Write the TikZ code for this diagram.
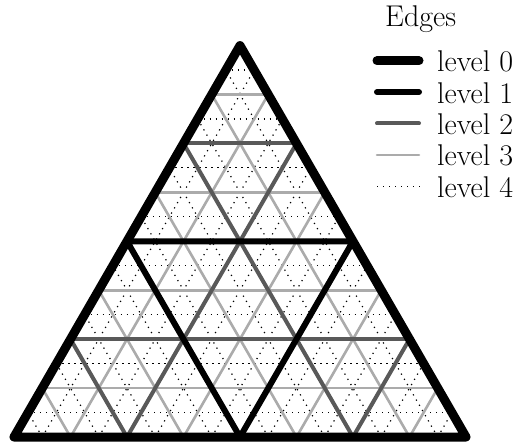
\documentclass[tikz,border=0pt]{standalone}
\usepackage{fontspec}
\begin{document}
\begin{tikzpicture}[x=1pt,y=1pt,
  lvzero/.style={line width=9pt,black,line cap=round,line join=round},
  lvone/.style={line width=6pt,black,line cap=round,line join=round},
  lvtwo/.style={line width=4pt,black!65,line cap=round},
  lvthree/.style={line width=2.6pt,black!33,line cap=round},
  lvfour/.style={line width=1.2pt,black,dash pattern=on 1.2pt off 4.8pt},
  legtext/.style={anchor=base west,inner sep=0pt,font=\fontsize{30}{36}\selectfont}]
\useasboundingbox (0,0) rectangle (525,445);
% triangle grid: P(a,b) = B + a*u + b*v
\begin{scope}[shift={(14,8)},x={(28.25pt,0pt)},y={(14.125pt,24.465pt)}]
  \coordinate (B) at (0,0);
  \coordinate (C) at (16,0);
  \coordinate (A) at (0,16);
  \foreach \m [evaluate=\m as \n using int(16-\m)] in {1,3,5,7,9,11,13,15}{
    \draw[lvfour] (0,\m) -- (\n,\m);
    \draw[lvfour] (\m,0) -- (\m,\n);
    \draw[lvfour] (\n,0) -- (0,\n);
  }
  \foreach \m [evaluate=\m as \n using int(16-\m)] in {2,6,10,14}{
    \draw[lvthree] (0,\m) -- (\n,\m);
    \draw[lvthree] (\m,0) -- (\m,\n);
    \draw[lvthree] (\n,0) -- (0,\n);
  }
  \foreach \m [evaluate=\m as \n using int(16-\m)] in {4,12}{
    \draw[lvtwo] (0,\m) -- (\n,\m);
    \draw[lvtwo] (\m,0) -- (\m,\n);
    \draw[lvtwo] (\n,0) -- (0,\n);
  }
  \coordinate (AB) at (0,8);
  \coordinate (BC) at (8,0);
  \coordinate (CA) at (8,8);
  \draw[lvone] (AB) -- (CA) -- (BC) -- cycle;
  \draw[lvzero] (A) -- (B) -- (C) -- cycle;
\end{scope}
% legend
\node[legtext] (title) at (385,418) {Edges};
\node[legtext] (t0) at (437,373.3) {level 0};
\node[legtext] (t1) at (437,341.9) {level 1};
\node[legtext] (t2) at (437,310.5) {level 2};
\node[legtext] (t3) at (437,279.1) {level 3};
\node[legtext] (t4) at (437,247.7) {level 4};
\coordinate (s0) at (377,384.3); \coordinate (e0) at (419,384.3);
\coordinate (s1) at (377,352.9); \coordinate (e1) at (419,352.9);
\coordinate (s2) at (377,321.5); \coordinate (e2) at (419,321.5);
\coordinate (s3) at (377,290.1); \coordinate (e3) at (419,290.1);
\coordinate (s4) at (377,258.7); \coordinate (e4) at (421,258.7);
\draw[lvzero] (s0) -- (e0);
\draw[lvone] (s1) -- (e1);
\draw[lvtwo] (s2) -- (e2);
\draw[lvthree] (s3) -- (e3);
\draw[lvfour] (s4) -- (e4);
\end{tikzpicture}
\end{document}
